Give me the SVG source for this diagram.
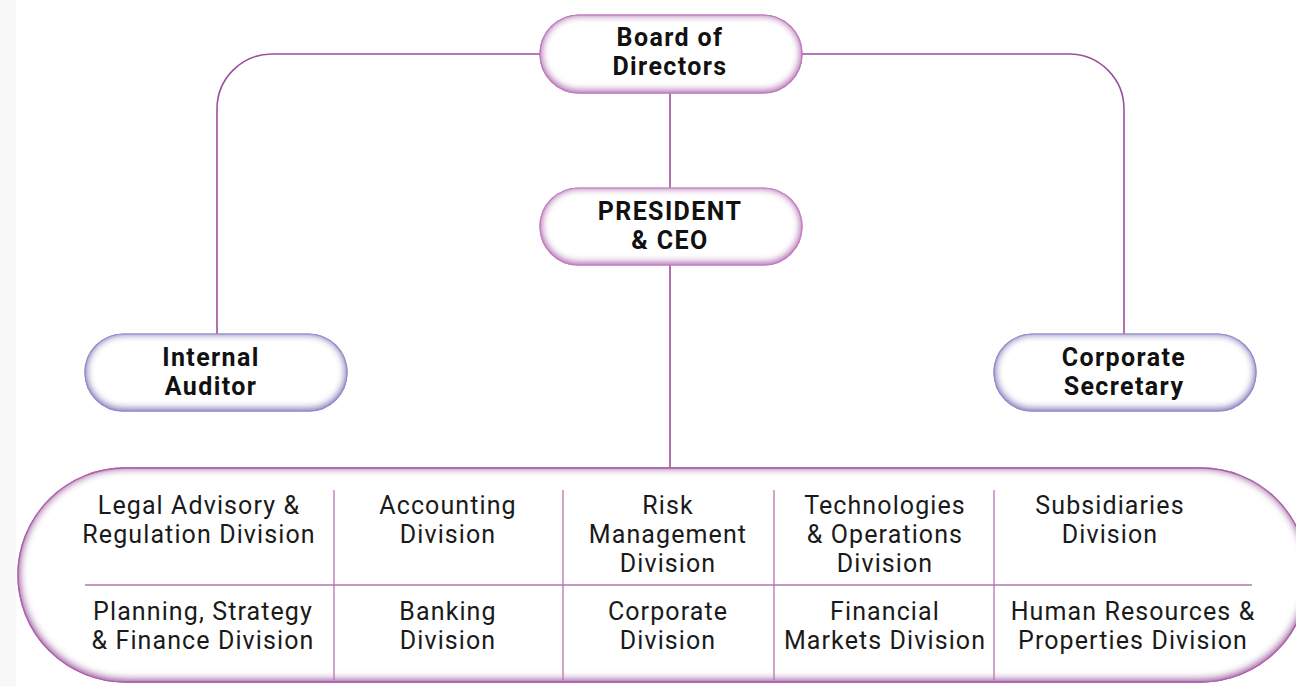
<svg xmlns="http://www.w3.org/2000/svg" width="1296" height="686" viewBox="0 0 1296 686">
<style>
.b{font-family:Roboto,"Liberation Sans",sans-serif;font-weight:700;font-size:25px;letter-spacing:1.4px;fill:#111;text-anchor:middle}
.r{font-family:Roboto,"Liberation Sans",sans-serif;font-weight:400;font-size:25px;letter-spacing:1.1px;fill:#1a1a1a;text-anchor:middle}
.c{fill:none;stroke:#9c4f9c;stroke-width:1.6}
.g{fill:none;stroke:#b475b4;stroke-width:1.3}
</style>
<defs>
<filter id="gp" x="-5%" y="-15%" width="110%" height="130%">
<feFlood flood-color="#c07ac0" result="f"/>
<feComposite in="f" in2="SourceAlpha" operator="out" result="o"/>
<feGaussianBlur in="o" stdDeviation="4.5" result="bl"/>
<feOffset in="bl" dy="-1" result="of"/>
<feComposite in="of" in2="SourceAlpha" operator="in" result="i"/>
<feMerge><feMergeNode in="SourceGraphic"/><feMergeNode in="i"/><feMergeNode in="i"/><feMergeNode in="i"/></feMerge>
</filter>
<filter id="gb" x="-5%" y="-15%" width="110%" height="130%">
<feFlood flood-color="#938ac8" result="f"/>
<feComposite in="f" in2="SourceAlpha" operator="out" result="o"/>
<feGaussianBlur in="o" stdDeviation="4.5" result="bl"/>
<feOffset in="bl" dy="-1" result="of"/>
<feComposite in="of" in2="SourceAlpha" operator="in" result="i"/>
<feMerge><feMergeNode in="SourceGraphic"/><feMergeNode in="i"/><feMergeNode in="i"/><feMergeNode in="i"/></feMerge>
</filter>
<filter id="gl" x="-3%" y="-10%" width="106%" height="120%">
<feFlood flood-color="#ad62ad" result="f"/>
<feComposite in="f" in2="SourceAlpha" operator="out" result="o"/>
<feGaussianBlur in="o" stdDeviation="5" result="bl"/>
<feOffset in="bl" dy="-1" result="of"/>
<feComposite in="of" in2="SourceAlpha" operator="in" result="i"/>
<feMerge><feMergeNode in="SourceGraphic"/><feMergeNode in="i"/><feMergeNode in="i"/><feMergeNode in="i"/></feMerge>
</filter>
</defs>
<rect width="1296" height="686" fill="#ffffff"/>
<rect width="16" height="686" fill="#f8f8f8"/>

<g id="connectors">
<path class="c" d="M540,54 H272 A55,55 0 0 0 217,109 V334"/>
<path class="c" d="M802,54 H1069 A55,55 0 0 1 1124,109 V334"/>
<line class="c" x1="670" y1="93" x2="670" y2="188"/>
<line class="c" x1="670" y1="265" x2="670" y2="469"/>
</g>

<g id="board">
<rect x="540" y="15" width="262" height="78" rx="39" fill="#fff" stroke="#b57ab5" stroke-width="1.2" filter="url(#gp)"/>
<text class="b" x="670" y="46">Board of</text>
<text class="b" x="670" y="75">Directors</text>
</g>

<g id="president">
<rect x="540" y="188" width="262" height="77" rx="38.5" fill="#fff" stroke="#cf95cf" stroke-width="1.2" filter="url(#gp)"/>
<text class="b" x="670" y="220">PRESIDENT</text>
<text class="b" x="670" y="249">&amp; CEO</text>
</g>

<g id="auditor">
<rect x="85" y="334" width="262" height="77" rx="38.5" fill="#fff" stroke="#a29ad0" stroke-width="1.2" filter="url(#gb)"/>
<text class="b" x="211" y="366">Internal</text>
<text class="b" x="211" y="395">Auditor</text>
</g>

<g id="secretary">
<rect x="994" y="334" width="262" height="77" rx="38.5" fill="#fff" stroke="#a29ad0" stroke-width="1.2" filter="url(#gb)"/>
<text class="b" x="1124" y="366">Corporate</text>
<text class="b" x="1124" y="395">Secretary</text>
</g>

<g id="divisions">
<rect x="18" y="468" width="1290" height="214" rx="107" fill="#fff" stroke="#a860a8" stroke-width="1.3" filter="url(#gl)"/>
<line class="g" x1="85" y1="585" x2="1252" y2="585"/>
<line class="g" x1="334" y1="490" x2="334" y2="680"/>
<line class="g" x1="563" y1="490" x2="563" y2="680"/>
<line class="g" x1="774" y1="490" x2="774" y2="680"/>
<line class="g" x1="994" y1="490" x2="994" y2="680"/>

<text class="r" x="199" y="514">Legal Advisory &amp;</text>
<text class="r" x="199" y="543">Regulation Division</text>
<text class="r" x="448" y="514">Accounting</text>
<text class="r" x="448" y="543">Division</text>
<text class="r" x="668" y="514">Risk</text>
<text class="r" x="668" y="543">Management</text>
<text class="r" x="668" y="572">Division</text>
<text class="r" x="885" y="514">Technologies</text>
<text class="r" x="885" y="543">&amp; Operations</text>
<text class="r" x="885" y="572">Division</text>
<text class="r" x="1110" y="514">Subsidiaries</text>
<text class="r" x="1110" y="543">Division</text>

<text class="r" x="203" y="620">Planning, Strategy</text>
<text class="r" x="203" y="649">&amp; Finance Division</text>
<text class="r" x="448" y="620">Banking</text>
<text class="r" x="448" y="649">Division</text>
<text class="r" x="668" y="620">Corporate</text>
<text class="r" x="668" y="649">Division</text>
<text class="r" x="885" y="620">Financial</text>
<text class="r" x="885" y="649">Markets Division</text>
<text class="r" x="1133" y="620">Human Resources &amp;</text>
<text class="r" x="1133" y="649">Properties Division</text>
</g>
</svg>
